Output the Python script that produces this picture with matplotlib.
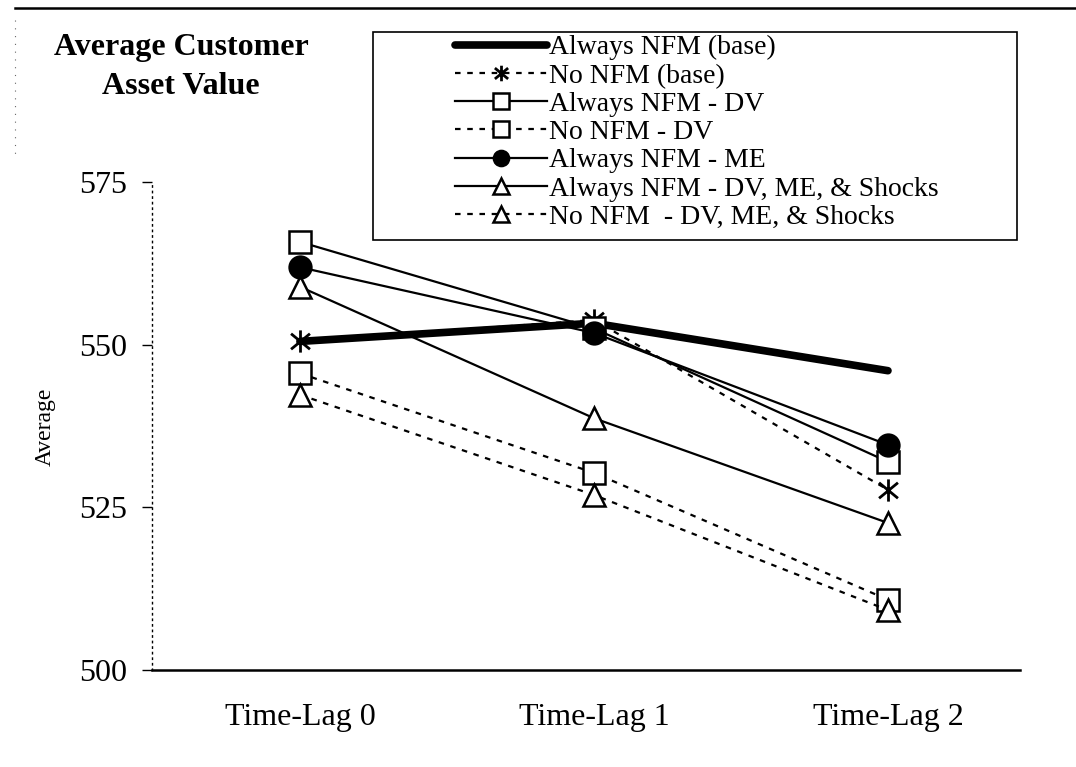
import matplotlib
matplotlib.use("Agg")
import matplotlib.pyplot as plt
from matplotlib.lines import Line2D
from matplotlib.patches import Rectangle
from matplotlib.path import Path

categories = ["Time-Lag 0", "Time-Lag 1", "Time-Lag 2"]
always_base = [550.5, 553.3, 546.0]
no_base = [550.5, 553.8, 527.7]
always_dv = [565.8, 552.5, 532.0]
no_dv = [545.6, 530.3, 510.8]
always_me = [561.9, 551.8, 534.6]
always_all = [558.9, 538.7, 522.6]
no_all = [542.3, 526.9, 509.2]
yticks = [500, 525, 550, 575]

W, H = 1076, 767
plt.rcParams['font.family'] = ['Liberation Serif', 'DejaVu Serif']
fig = plt.figure(figsize=(W / 100, H / 100), dpi=100)
ax = fig.add_axes([152 / W, 1 - 670 / H, (1020 - 152) / W, (670 - 182) / H])

x = list(range(len(categories)))
dash = (0, (2.5, 3))
thin = 1.6
ms = 16
star = Path([(0, -1), (0, 1), (-0.85, -0.7), (0.85, 0.7), (-0.85, 0.7), (0.85, -0.7)],
            [Path.MOVETO, Path.LINETO, Path.MOVETO, Path.LINETO, Path.MOVETO, Path.LINETO])

ax.plot(x, always_base, color='black', lw=5.5, solid_capstyle='round', zorder=2,
        label='Always NFM (base)')
ax.plot(x, no_base, color='black', lw=thin, ls=dash, marker=star, ms=ms, mew=2.0,
        mfc='none', mec='black', zorder=3, label='No NFM (base)')
ax.plot(x, always_dv, color='black', lw=thin, marker='s', ms=ms, mew=1.8,
        mfc='white', mec='black', zorder=3, label='Always NFM - DV')
ax.plot(x, no_dv, color='black', lw=thin, ls=dash, marker='s', ms=ms, mew=1.8,
        mfc='white', mec='black', zorder=3, label='No NFM - DV')
ax.plot(x, always_me, color='black', lw=thin, marker='o', ms=ms, mew=1.5,
        mfc='black', mec='black', zorder=4, label='Always NFM - ME')
ax.plot(x, always_all, color='black', lw=thin, marker='^', ms=ms, mew=1.8,
        mfc='white', mec='black', zorder=3, label='Always NFM - DV, ME, & Shocks')
ax.plot(x, no_all, color='black', lw=thin, ls=dash, marker='^', ms=ms, mew=1.8,
        mfc='white', mec='black', zorder=3, label='No NFM  - DV, ME, & Shocks')

ax.set_xlim(-0.503, 2.449)
ax.set_ylim(500, 575)
ax.set_yticks(yticks)
ax.set_yticklabels([str(v) for v in yticks], fontsize=23)
ax.set_xticks(x)
ax.set_xticklabels(categories, fontsize=23)
ax.tick_params(axis='x', length=0, pad=24)
ax.tick_params(axis='y', length=7, width=1, pad=11, direction='out')

for s in ['top', 'right']:
    ax.spines[s].set_visible(False)
ax.spines['left'].set_linestyle((0, (1, 3)))
ax.spines['left'].set_linewidth(1.0)
ax.spines['bottom'].set_linewidth(1.8)
for line in ax.get_lines():
    line.set_clip_on(False)

fig.text(45 / W, 1 - 427 / H, 'Average', rotation=90, fontsize=17,
         ha='center', va='center')

fig.text(181 / W, 1 - 67 / H, 'Average Customer\nAsset Value', fontsize=23,
         fontweight='bold', ha='center', va='center', linespacing=1.45)

fig.add_artist(Line2D([15 / W, 1.0], [1 - 8 / H, 1 - 8 / H], color='black', lw=1.8))
fig.add_artist(Line2D([15 / W, 15 / W], [1 - 20 / H, 1 - 160 / H], color='0.4',
                      lw=0.8, ls=(0, (1, 6))))

# legend box drawn behind the legend entries
box = Rectangle((373 / W, 1 - 240 / H), (1017 - 373) / W, (240 - 32) / H,
                transform=fig.transFigure, fill=True, facecolor='white',
                edgecolor='black', lw=1.2, zorder=5, clip_on=False)
ax.add_patch(box)
leg = ax.legend(loc='upper left', bbox_to_anchor=(455 / W, 1 - 35 / H),
                bbox_transform=fig.transFigure, frameon=False, fontsize=20,
                handlelength=3.3, handletextpad=0.1, labelspacing=0.1,
                borderpad=0, borderaxespad=0, markerscale=0.7)
leg.set_zorder(6)

fig.savefig('out.png', dpi=100)
